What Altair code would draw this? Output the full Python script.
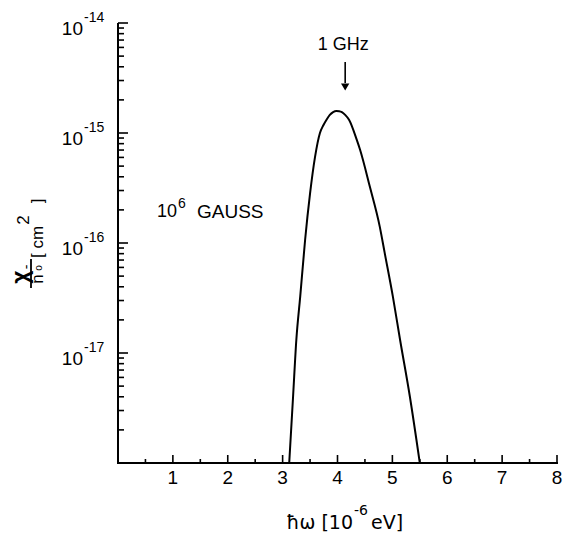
import altair as alt
import pandas as pd

FONT = "Liberation Sans"

# ---- data ----
hw = [3.12, 3.19, 3.25, 3.32, 3.41, 3.50, 3.59, 3.68, 3.74, 3.80, 3.86, 3.92,
      3.98, 4.03, 4.08, 4.14, 4.21, 4.35, 4.41, 4.59, 4.77, 4.86, 5.01, 5.14,
      5.32, 5.50]
chi = [1.0e-18, 3.98e-18, 1.32e-17, 3.24e-17, 1.07e-16, 2.82e-16, 6.03e-16,
       1.0e-15, 1.17e-15, 1.32e-15, 1.459e-15, 1.549e-15, 1.585e-15,
       1.578e-15, 1.549e-15, 1.462e-15, 1.32e-15, 8.7e-16, 7.08e-16,
       3.24e-16, 1.41e-16, 8.13e-17, 3.24e-17, 1.32e-17, 3.98e-18, 1.0e-18]

x_major = [1, 2, 3, 4, 5, 6, 7, 8]
x_tick_labels = ["1", "2", "3", "4", "5", "6", "7", "8"]
x_minor = [0.5, 1.5, 2.5, 3.5, 4.5, 5.5, 6.5, 7.5]
y_major = [1e-14, 1e-15, 1e-16, 1e-17]
y_exp_labels = ["-14", "-15", "-16", "-17"]
decades = [1e-18, 1e-17, 1e-16, 1e-15]
mults = [2, 3, 4, 5, 6, 7, 8, 9]
y_minor = [m * d for d in decades for m in mults]

ghz_x = [4.14]           # 1 GHz in units of 1e-6 eV
ghz_label = ["1 GHz"]

xscale = alt.Scale(domain=[0, 8], nice=False, zero=False)
yscale = alt.Scale(type="log", domain=[1e-18, 1e-14], nice=False)

W, H = 439, 440

curve_df = pd.DataFrame({"hw": hw, "chi": chi})

curve = alt.Chart(curve_df).mark_line(
    color="black", strokeWidth=2, interpolate="monotone"
).encode(
    x=alt.X("hw:Q", scale=xscale, axis=None),
    y=alt.Y("chi:Q", scale=yscale, axis=None),
)

one = pd.DataFrame({"k": [0]})
left_domain = alt.Chart(one).mark_rule(color="black", strokeWidth=2).encode(
    x=alt.value(0), y=alt.value(0), y2=alt.value(H + 1))
bottom_domain = alt.Chart(one).mark_rule(color="black", strokeWidth=2).encode(
    x=alt.value(-1), x2=alt.value(W + 1), y=alt.value(H))

def xticks(vals, length):
    return alt.Chart(pd.DataFrame({"v": vals})).mark_rule(
        color="black", strokeWidth=1.6
    ).encode(
        x=alt.X("v:Q", scale=xscale, axis=None),
        y=alt.value(H), y2=alt.value(H - length),
    )

def yticks(vals, length):
    return alt.Chart(pd.DataFrame({"v": vals})).mark_rule(
        color="black", strokeWidth=1.6
    ).encode(
        y=alt.Y("v:Q", scale=yscale, axis=None),
        x=alt.value(0), x2=alt.value(length),
    )

xlab = alt.Chart(pd.DataFrame({"v": x_major, "t": x_tick_labels})).mark_text(
    align="center", baseline="top", font=FONT, fontSize=19, color="black"
).encode(x=alt.X("v:Q", scale=xscale, axis=None), y=alt.value(H + 6), text="t:N")

ylab_df = pd.DataFrame({"v": y_major, "exp": y_exp_labels})
ylab_base = alt.Chart(ylab_df).mark_text(
    align="right", baseline="middle", font=FONT, fontSize=19, dy=6, color="black"
).encode(y=alt.Y("v:Q", scale=yscale, axis=None), x=alt.value(-35),
         text=alt.value("10"))
ylab_exp = alt.Chart(ylab_df).mark_text(
    align="left", baseline="middle", font=FONT, fontSize=14, dy=-5, color="black"
).encode(y=alt.Y("v:Q", scale=yscale, axis=None), x=alt.value(-34),
         text="exp:N")

# annotations
ann_df = pd.DataFrame({"x": ghz_x, "label": ghz_label})
ghz_text = alt.Chart(ann_df).mark_text(
    font=FONT, fontSize=18, color="black", align="center", baseline="middle", dx=-2
).encode(x=alt.X("x:Q", scale=xscale, axis=None), y=alt.value(22), text="label:N")
arrow_shaft = alt.Chart(ann_df).mark_rule(color="black", strokeWidth=1.6).encode(
    x=alt.X("x:Q", scale=xscale, axis=None), y=alt.value(39), y2=alt.value(60))
arrow_head = alt.Chart(ann_df).mark_point(
    shape="triangle-down", filled=True, color="black", size=70, opacity=1
).encode(x=alt.X("x:Q", scale=xscale, axis=None), y=alt.value(64))

def txt(t, x, y, size, align="left", angle=0, weight="normal", font=FONT):
    return alt.Chart(one).mark_text(
        font=font, fontSize=size, color="black", align=align,
        baseline="middle", angle=angle, fontWeight=weight
    ).encode(x=alt.value(x), y=alt.value(y), text=alt.value(t))

gauss = [
    txt("10", 39, 189, 18),
    txt("6", 60, 181, 14),
    txt("GAUSS", 79, 189, 19),
]

# x-axis title
XF = "DejaVu Sans"
xtitle = [
    txt("ħω  [10", 235, 500, 19, align="right", font=XF),
    txt("-6", 236, 488, 14, font=XF),
    txt("eV]", 253, 500, 19, font=XF),
]

# y-axis title (rotated)
ytitle = [
    txt("χ", -97, 254, 23, align="center", angle=270, weight="bold"),
    txt("-", -91, 244, 14, align="center", angle=270),
    txt("n", -80, 256, 17, align="center", angle=270),
    txt("o", -79, 245, 10, align="center", angle=270),
    txt("[ cm", -80, 219, 17, align="center", angle=270),
    txt("2", -94, 197, 17, align="center", angle=270),
    txt("]", -80, 178, 17, align="center", angle=270),
]
yt_bar = alt.Chart(one).mark_rule(color="black", strokeWidth=1.8).encode(
    x=alt.value(-87), y=alt.value(236), y2=alt.value(265))

chart = alt.layer(
    curve, left_domain, bottom_domain,
    xticks(x_major, 8), xticks(x_minor, 4),
    yticks(y_major, 10), yticks(y_minor, 6),
    xlab, ylab_base, ylab_exp,
    ghz_text, arrow_shaft, arrow_head,
    *gauss, *xtitle, *ytitle, yt_bar,
).properties(
    width=W, height=H,
    autosize=alt.AutoSizeParams(type="none"),
    padding={"left": 118, "top": 23, "right": 6, "bottom": 75},
).configure_view(stroke=None, strokeWidth=0)

chart.save("out.html", embed_options={"renderer": "svg", "actions": False})
